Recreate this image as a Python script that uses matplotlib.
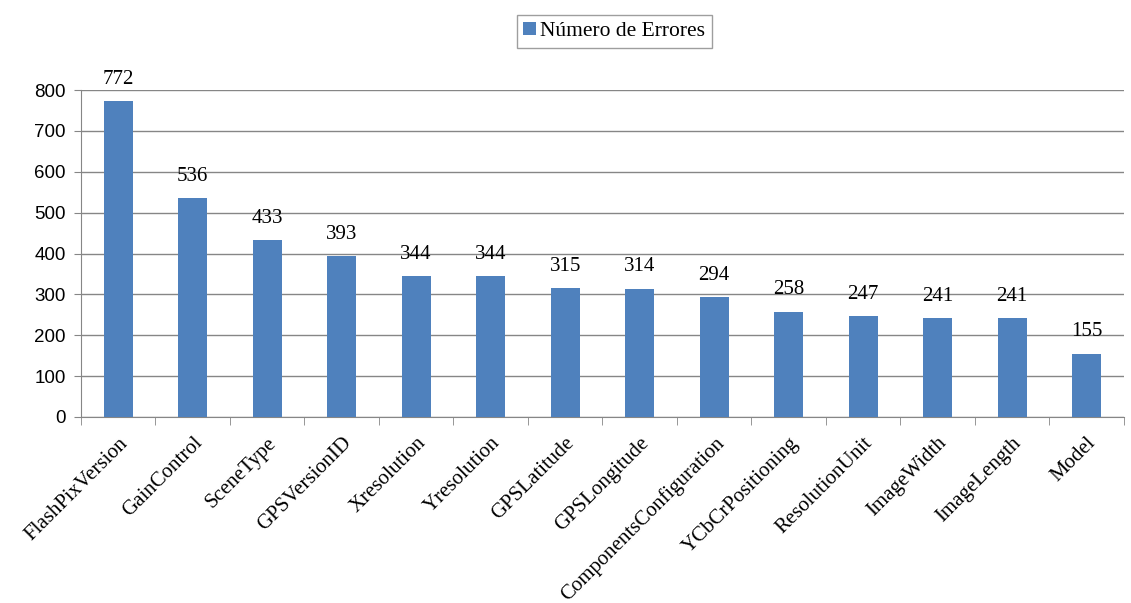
import matplotlib.pyplot as plt
import numpy as np

# datos
campos = ['FlashPixVersion', 'GainControl', 'SceneType', 'GPSVersionID',
          'Xresolution', 'Yresolution', 'GPSLatitude', 'GPSLongitude',
          'ComponentsConfiguration', 'YCbCrPositioning', 'ResolutionUnit',
          'ImageWidth', 'ImageLength', 'Model']
errores = [772, 536, 433, 393, 344, 344, 315, 314, 294, 258, 247, 241, 241, 155]

serif = 'Liberation Serif'
sans = 'Liberation Sans'

fig = plt.figure(figsize=(11.31, 6.03), dpi=100)
ax = fig.add_axes([0.0716, 0.3085, 0.922, 0.5422])

x = np.arange(len(campos))
bars = ax.bar(x, errores, width=0.39, color='#4F81BD', label='Número de Errores', zorder=3)

# etiquetas de valor
for xi, v in zip(x, errores):
    ax.text(xi, v + 30, str(v), ha='center', va='bottom', fontsize=15, family=serif)

ax.set_xlim(-0.5, len(campos) - 0.5)
ax.set_ylim(0, 800)
ax.set_yticks(range(0, 801, 100))
ax.yaxis.grid(True, color='#868686', linewidth=1, zorder=0)
ax.tick_params(axis='y', length=5, color='#868686', labelsize=13.5, pad=6)
for lab in ax.get_yticklabels():
    lab.set_family(sans)

# marcas entre categorías
ax.set_xticks(x)
ax.set_xticklabels(campos, rotation=45, ha='right', rotation_mode='anchor',
                   fontsize=15, family=serif)
ax.tick_params(axis='x', length=0, pad=12)
ax.set_xticks(np.arange(-0.5, len(campos), 1), minor=True)
ax.tick_params(axis='x', which='minor', length=6, color='#868686', direction='out')

for s in ['top', 'right']:
    ax.spines[s].set_visible(False)
ax.spines['left'].set_color('#868686')
ax.spines['bottom'].set_color('#868686')

leg = fig.legend(loc='center', bbox_to_anchor=(0.543, 0.948),
                 prop={'family': serif, 'size': 15.5}, frameon=True, fancybox=False,
                 edgecolor='#868686', handlelength=0.6, handleheight=0.6,
                 handletextpad=0.2, borderpad=0.3, borderaxespad=0)
leg.get_frame().set_linewidth(1)

plt.savefig('out.png', dpi=100)
